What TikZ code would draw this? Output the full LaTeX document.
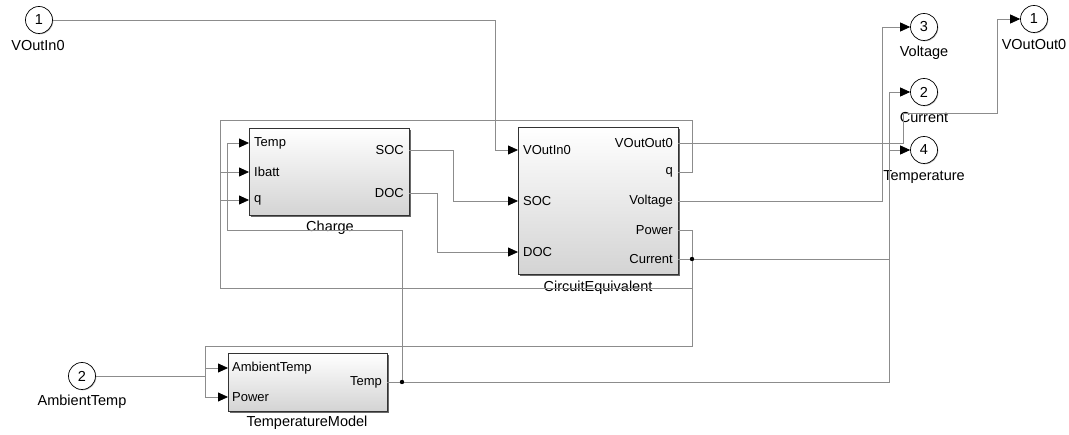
\documentclass[tikz,border=0pt]{standalone}
\usepackage{fontspec}
\setmainfont{Liberation Sans}
\usetikzlibrary{arrows.meta,shadows}
\begin{document}
\begin{tikzpicture}[x=1pt,y=-1pt,
  wire/.style={draw=black!45, line width=0.8pt},
  port/.style={-{Triangle[length=10pt,width=9pt,black]}},
  blk/.style={draw=black!80, line width=0.7pt, top color=white, bottom color=black!17, inner sep=0pt,
    drop shadow={shadow xshift=1.6pt, shadow yshift=-1.6pt, fill=black!65, opacity=0.9}},
  io/.style={circle, draw=black, line width=0.7pt, fill=white, minimum size=27pt, inner sep=0pt,
    font=\fontsize{14.5}{16}\selectfont,
    drop shadow={shadow xshift=0.8pt, shadow yshift=-0.8pt, fill=black!40, opacity=0.7}},
  lbl/.style={font=\fontsize{14.5}{16}\selectfont, inner sep=0pt},
  plbl/.style={font=\fontsize{13}{15}\selectfont, inner sep=0pt},
  dot/.style={circle, fill=black, minimum size=4.4pt, inner sep=0pt}
]
\useasboundingbox (0,0) rectangle (1069,435);
\fill[white] (0,0) rectangle (1069,435);

% ---------- blocks ----------
\node[blk, minimum width=160pt, minimum height=87pt] (charge) at (329,171.5) {};
\node[blk, minimum width=160pt, minimum height=147pt] (ce) at (598,200.5) {};
\node[blk, minimum width=159pt, minimum height=58pt] (tm) at (307.5,382) {};

% port coordinates
\coordinate (ch-temp) at (249,143);
\coordinate (ch-ibatt) at (249,172);
\coordinate (ch-q) at (249,200);
\coordinate (ch-soc) at (409,150);
\coordinate (ch-doc) at (409,193);
\coordinate (ce-vin) at (518,150);
\coordinate (ce-soc) at (518,201);
\coordinate (ce-doc) at (518,252);
\coordinate (ce-vout) at (678,143);
\coordinate (ce-q) at (678,172);
\coordinate (ce-volt) at (678,201);
\coordinate (ce-pow) at (678,230);
\coordinate (ce-cur) at (678,259);
\coordinate (tm-amb) at (228,368);
\coordinate (tm-pow) at (228,397);
\coordinate (tm-temp) at (387,382);
\coordinate (jc) at (692,259);
\coordinate (jt) at (402,382);

% port labels
\node[plbl, anchor=west] (l1) at (254,143) {Temp};
\node[plbl, anchor=west] (l2) at (254,172) {Ibatt};
\node[plbl, anchor=west] (l3) at (254,200) {q};
\node[plbl, anchor=east] (l4) at (404,150) {SOC};
\node[plbl, anchor=east] (l5) at (404,193) {DOC};
\node[plbl, anchor=west] (l6) at (523,150) {VOutIn0};
\node[plbl, anchor=west] (l7) at (523,201) {SOC};
\node[plbl, anchor=west] (l8) at (523,252) {DOC};
\node[plbl, anchor=east] (l9) at (673,143) {VOutOut0};
\node[plbl, anchor=east] (l10) at (673,172) {q};
\node[plbl, anchor=east] (l11) at (673,201) {Voltage};
\node[plbl, anchor=east] (l12) at (673,230) {Power};
\node[plbl, anchor=east] (l13) at (673,259) {Current};
\node[plbl, anchor=west] (l14) at (232,368) {AmbientTemp};
\node[plbl, anchor=west] (l15) at (232,397) {Power};
\node[plbl, anchor=east] (l16) at (382,382) {Temp};

% block names
\node[lbl] (chn) at (330,228) {Charge};
\node[lbl] (cen) at (598,288) {CircuitEquivalent};
\node[lbl] (tmn) at (307,423) {TemperatureModel};

% ---------- in / out ports ----------
\node[io] (in1) at (39,20) {1};
\node[lbl] (in1l) at (38,46) {VOutIn0};
\node[io] (in2) at (82,376) {2};
\node[lbl] (in2l) at (82,402) {AmbientTemp};
\node[io] (out3) at (924,27) {3};
\node[lbl] (out3l) at (924,53) {Voltage};
\node[io] (out2) at (924,92) {2};
\node[lbl] (out2l) at (924,118) {Current};
\node[io] (out4) at (924,150) {4};
\node[lbl] (out4l) at (924,177) {Temperature};
\node[io] (out1) at (1034,19) {1};
\node[lbl] (out1l) at (1034,45) {VOutOut0};

% ---------- wires ----------
\draw[wire,port] (in1.east) -- (495,20) -- (495,150) -- (ce-vin);
\draw[wire,port] (ch-soc) -- (453,150) -- (453,201) -- (ce-soc);
\draw[wire,port] (ch-doc) -- (437,193) -- (437,252) -- (ce-doc);
\draw[wire,port] (ce-vout) -- (903,143) -- (903,113) -- (997,113) -- (997,19) -- (out1.west);
\draw[wire,port] (ce-q) -- (692,172) -- (692,120) -- (220,120) -- (220,200) -- (ch-q);
\draw[wire,port] (ce-volt) -- (882,201) -- (882,27) -- (out3.west);
\draw[wire] (ce-cur) -- (jc);
\draw[wire,port] (jc) -- (889,259) -- (889,92) -- (out2.west);
\draw[wire,port] (jc) -- (692,288) -- (220,288) -- (220,172) -- (ch-ibatt);
\draw[wire,port] (ce-pow) -- (692,230) -- (692,346) -- (205,346) -- (205,397) -- (tm-pow);
\draw[wire,port] (in2.east) -- (205,376) -- (205,368) -- (tm-amb);
\draw[wire] (tm-temp) -- (jt);
\draw[wire,port] (jt) -- (402,230) -- (227,230) -- (227,143) -- (ch-temp);
\draw[wire,port] (jt) -- (889,382) -- (889,150) -- (out4.west);

\node[dot] (dc) at (jc) {};
\node[dot] (dt) at (jt) {};
\end{tikzpicture}
\end{document}
